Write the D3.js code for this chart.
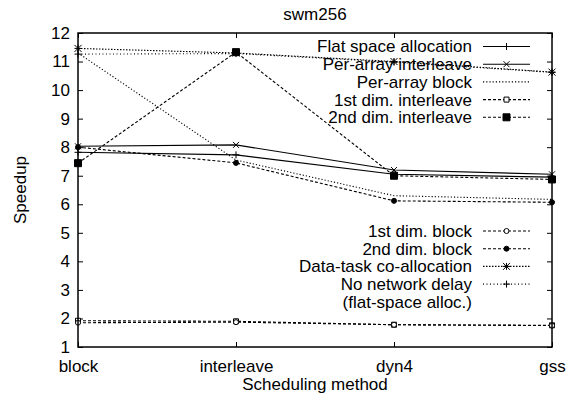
<!DOCTYPE html>
<html><head><meta charset="utf-8">
<script src="https://cdn.jsdelivr.net/npm/d3@7"></script>
<style>
body{margin:0;background:#fff;}
text{font-family:"Liberation Sans",Arial,Helvetica,sans-serif;fill:#000;}
</style></head>
<body><svg id="c" width="573" height="396"></svg>
<script>
const categories = ["block","interleave","dyn4","gss"];
const yTicks = [1,2,3,4,5,6,7,8,9,10,11,12];
const seriesNames = ["Flat space allocation","Per-array interleave","Per-array block","1st dim. interleave","2nd dim. interleave","1st dim. block","2nd dim. block","Data-task co-allocation","No network delay"];
const flatSpace = [7.82, 7.73, 7.05, 6.95];
const perArrayInterleave = [8.03, 8.08, 7.2, 7.05];
const perArrayBlock = [11.3, 7.55, 6.3, 6.17];
const dim1Interleave = [1.92, 1.9, 1.78, 1.76];
const dim2Interleave = [7.44, 11.33, 7.0, 6.87];
const dim1Block = [1.85, 1.87, 1.78, 1.75];
const dim2Block = [8.0, 7.45, 6.12, 6.07];
const dataTask = [11.46, 11.3, 11.0, 10.63];
const noNetDelay = [11.26, 11.28, 10.98, 10.62];

const FS = 17;
const series = [
  {name:seriesNames[0], values:flatSpace, dash:null, marker:"plus", legend:0, row:0},
  {name:seriesNames[1], values:perArrayInterleave, dash:null, marker:"cross", legend:0, row:1},
  {name:seriesNames[2], values:perArrayBlock, dash:"1.2,2", marker:null, legend:0, row:2},
  {name:seriesNames[3], values:dim1Interleave, dash:"3,2", marker:"osquare", legend:0, row:3},
  {name:seriesNames[4], values:dim2Interleave, dash:"3,2", marker:"fsquare", legend:0, row:4},
  {name:seriesNames[5], values:dim1Block, dash:"3,2", marker:"ocircle", legend:1, row:0},
  {name:seriesNames[6], values:dim2Block, dash:"3,2", marker:"fcircle", legend:1, row:1},
  {name:seriesNames[7], values:dataTask, dash:"1.5,1.5", marker:"star", legend:1, row:2},
  {name:seriesNames[8], values:noNetDelay, dash:"1,2.5", marker:"plus", legend:1, row:3, extra:"(flat-space alloc.)"}
];

const svg = d3.select("#c");
const L=78, R=552, T=33, B=347;
const x = d3.scalePoint().domain(categories).range([L,R]);
const y = d3.scaleLinear().domain([1,12]).range([B,T]);

svg.append("text").attr("x",(L+R)/2).attr("y",14).attr("dy","0.35em").attr("text-anchor","middle").attr("font-size",FS).text("swm256");

const yAxisL = d3.axisLeft(y).tickValues(yTicks).tickSize(-5).tickPadding(8);
const gy = svg.append("g").attr("transform",`translate(${L},0)`).call(yAxisL);
gy.select(".domain").remove();
gy.selectAll("text").attr("font-size",FS).attr("font-family","Liberation Sans, Arial, sans-serif");
const yAxisR = d3.axisRight(y).tickValues(yTicks).tickSize(-5).tickFormat("");
const gyr = svg.append("g").attr("transform",`translate(${R},0)`).call(yAxisR);
gyr.select(".domain").remove();
const xAxisB = d3.axisBottom(x).tickSize(-5).tickPadding(13);
const gx = svg.append("g").attr("transform",`translate(0,${B})`).call(xAxisB);
gx.select(".domain").remove();
gx.selectAll("text").attr("font-size",FS).attr("font-family","Liberation Sans, Arial, sans-serif");
const xAxisT = d3.axisTop(x).tickSize(-5).tickFormat("");
const gxt = svg.append("g").attr("transform",`translate(0,${T})`).call(xAxisT);
gxt.select(".domain").remove();
svg.selectAll(".tick line").attr("stroke","#000").attr("stroke-width",1);

svg.append("text").attr("x",(L+R)/2).attr("y",384).attr("dy","0.35em").attr("text-anchor","middle").attr("font-size",FS).text("Scheduling method");
svg.append("text").attr("transform",`translate(20,${(T+B)/2}) rotate(-90)`).attr("dy","0.35em").attr("text-anchor","middle").attr("font-size",FS).text("Speedup");

function markerPath(type, s){
  const h=s/2;
  switch(type){
    case "plus": return `M${-h},0L${h},0M0,${-h}L0,${h}`;
    case "cross": return `M${-h},${-h}L${h},${h}M${-h},${h}L${h},${-h}`;
    case "star": return `M${-h},0L${h},0M0,${-h}L0,${h}M${-h},${-h}L${h},${h}M${-h},${h}L${h},${-h}`;
    case "osquare": case "fsquare": return `M${-h},${-h}H${h}V${h}H${-h}Z`;
    case "ocircle": case "fcircle": return d3.arc()({innerRadius:0,outerRadius:h,startAngle:0,endAngle:2*Math.PI});
  }
}
function drawMarker(g, type, cx, cy){
  if(!type) return;
  const size = {plus:7,cross:6,star:7,osquare:5,fsquare:7,ocircle:5,fcircle:5}[type];
  const filled = type==="fsquare"||type==="fcircle";
  const open = type==="osquare"||type==="ocircle";
  g.append("path").attr("d",markerPath(type,size)).attr("transform",`translate(${cx},${cy})`)
    .attr("fill", filled?"#000":(open?"#fff":"none")).attr("stroke","#000").attr("stroke-width",1);
}

const line = d3.line().x((d,i)=>x(categories[i])).y(d=>y(d));
const plot = svg.append("g");
series.forEach(s=>{
  plot.append("path").attr("d",line(s.values)).attr("fill","none").attr("stroke","#000")
    .attr("stroke-width",1.1).attr("stroke-dasharray",s.dash);
  s.values.forEach((v,i)=>drawMarker(plot,s.marker,x(categories[i]),y(v)));
});

const legTop=[46.5,64.2,81.9,99.6,117.3];
const legBot=[231,248.7,266.4,284.1];
series.forEach(s=>{
  const ly = s.legend===0 ? legTop[s.row] : legBot[s.row];
  svg.append("text").attr("x",472).attr("y",ly).attr("dy","0.35em").attr("text-anchor","end").attr("font-size",FS).text(s.name);
  svg.append("line").attr("x1",483).attr("x2",530).attr("y1",ly).attr("y2",ly).attr("stroke","#000").attr("stroke-width",1.1).attr("stroke-dasharray",s.dash);
  drawMarker(svg,s.marker,506.5,ly);
  if(s.extra){
    svg.append("text").attr("x",472).attr("y",ly+17.7).attr("dy","0.35em").attr("text-anchor","end").attr("font-size",FS).text(s.extra);
  }
});

svg.append("rect").attr("x",L).attr("y",T).attr("width",R-L).attr("height",B-T).attr("fill","none").attr("stroke","#000").attr("stroke-width",1.5);
</script></body></html>
